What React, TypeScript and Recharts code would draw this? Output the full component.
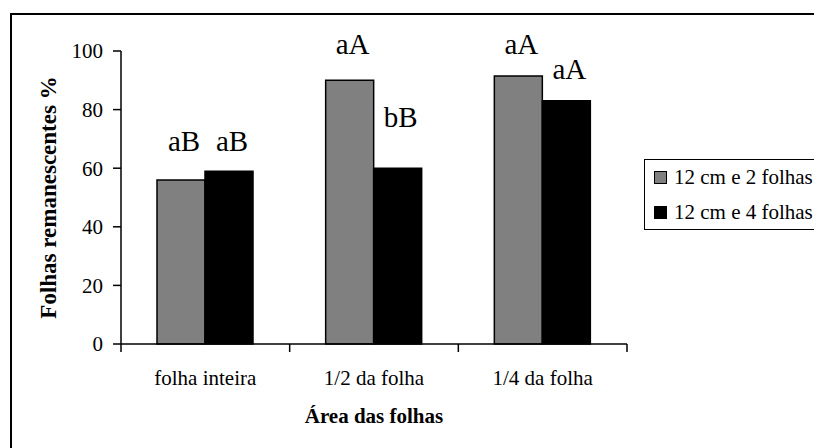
import { BarChart, Bar, XAxis, YAxis, Legend, LabelList } from "recharts";

const categories = ["folha inteira", "1/2 da folha", "1/4 da folha"];
const twoLeaves = [56, 90, 91.5];
const fourLeaves = [59, 60, 83];
const twoLeavesLetters = ["aB", "aA", "aA"];
const fourLeavesLetters = ["aB", "bB", "aA"];
// height (in % units) at which each letter sits
const twoLeavesLetterLevel = [66, 99, 99];
const fourLeavesLetterLevel = [66, 74, 90.6];
const yTicks = [0, 20, 40, 60, 80, 100];

const SERIES_TWO = "12 cm e 2 folhas";
const SERIES_FOUR = "12 cm e 4 folhas";

const data = categories.map((name, i) => ({
  name,
  two: twoLeaves[i],
  four: fourLeaves[i],
}));

const FONT = "Liberation Serif";

function letterLabel(letters: string[], levels: number[]) {
  return (props: any) => {
    const vb = props.viewBox ?? props;
    const { x, y, width, height } = vb;
    const index = props.index;
    const value = Number(props.value);
    if (!value || index == null) return null;
    const perUnit = height / value;
    const baseY = y + height;
    const ly = baseY - levels[index] * perUnit;
    return (
      <text
        x={x + width / 2 + 3}
        y={ly}
        textAnchor="middle"
        fontFamily={FONT}
        fontSize={29}
        fill="#000"
      >
        {letters[index]}
      </text>
    );
  };
}

function CategoryTick(props: any) {
  const { x, y, payload, index } = props;
  const half = payload?.offset ?? 84.4;
  const axisY = y - 10;
  return (
    <g>
      <line x1={x - half} y1={axisY} x2={x - half} y2={axisY + 8} stroke="#000" strokeWidth={1.5} />
      {index === categories.length - 1 && (
        <line x1={x + half} y1={axisY} x2={x + half} y2={axisY + 8} stroke="#000" strokeWidth={1.5} />
      )}
      <text x={x} y={y + 31} textAnchor="middle" fontFamily={FONT} fontSize={21} fill="#000">
        {payload.value}
      </text>
    </g>
  );
}

function LegendBox(props: any) {
  const items = props.payload ?? [];
  return (
    <div
      style={{
        borderTop: "1.5px solid #000",
        borderLeft: "1.5px solid #000",
        borderBottom: "1.5px solid #000",
        background: "#fff",
        width: 260,
        height: 69,
        boxSizing: "content-box",
        fontFamily: FONT,
        fontSize: 21,
        color: "#000",
      }}
    >
      {items.map((item: any, i: number) => (
        <div
          key={i}
          style={{ display: "flex", alignItems: "center", height: 35, paddingLeft: 9, whiteSpace: "nowrap" }}
        >
          <span
            style={{
              display: "inline-block",
              width: 11,
              height: 11,
              background: item.color,
              border: "1px solid #000",
              marginRight: 7,
            }}
          />
          <span>{item.value}</span>
        </div>
      ))}
    </div>
  );
}

function YTitle(props: any) {
  const vb = props.viewBox;
  const cx = vb.x + 48;
  const cy = vb.y + vb.height / 2;
  return (
    <text
      x={cx}
      y={cy}
      transform={`rotate(-90 ${cx} ${cy})`}
      textAnchor="middle"
      dominantBaseline="central"
      fontFamily={FONT}
      fontSize={23}
      fontWeight="bold"
      fill="#000"
    >
      Folhas remanescentes %
    </text>
  );
}

export default function App() {
  return (
    <div style={{ position: "fixed", left: 0, top: 0, width: 814, height: 448, overflow: "hidden", background: "#fff" }}>
      <div
        style={{
          position: "absolute",
          left: 10,
          top: 13,
          right: -20,
          bottom: -20,
          borderTop: "2px solid #000",
          borderLeft: "2px solid #000",
        }}
      />
      <div style={{ position: "absolute", left: 0, top: 0, width: 814, height: 448, overflow: "hidden" }}>
        <BarChart
          width={814}
          height={448}
          data={data}
          margin={{ top: 51, right: 187, bottom: 44, left: 0 }}
          barGap={0}
          barSize={48}
        >
          <XAxis
            dataKey="name"
            height={60}
            axisLine={{ stroke: "#000", strokeWidth: 1.5 }}
            tickLine={false}
            tickSize={8}
            tickMargin={2}
            interval={0}
            tick={<CategoryTick />}
            label={{
              value: "Área das folhas",
              position: "insideBottom",
              offset: -19,
              style: { fontFamily: FONT, fontSize: 21, fontWeight: "bold", fill: "#000" },
            }}
          />
          <YAxis
            width={121}
            domain={[0, 100]}
            ticks={yTicks}
            tickSize={8}
            tickMargin={10}
            axisLine={{ stroke: "#000", strokeWidth: 1.5 }}
            tickLine={{ stroke: "#000", strokeWidth: 1.5 }}
            tick={{ fontFamily: FONT, fontSize: 21, fill: "#000" }}
            label={{ content: <YTitle /> }}
          />
          <Legend
            layout="vertical"
            align="center"
            verticalAlign="middle"
            wrapperStyle={{ left: 644, top: 159, width: 170 }}
            content={<LegendBox />}
          />
          <Bar dataKey="two" name={SERIES_TWO} fill="#808080" stroke="#000" strokeWidth={1.5} isAnimationActive={false}>
            <LabelList dataKey="two" content={letterLabel(twoLeavesLetters, twoLeavesLetterLevel)} />
          </Bar>
          <Bar dataKey="four" name={SERIES_FOUR} fill="#000" stroke="#000" strokeWidth={1.5} isAnimationActive={false}>
            <LabelList dataKey="four" content={letterLabel(fourLeavesLetters, fourLeavesLetterLevel)} />
          </Bar>
        </BarChart>
      </div>
    </div>
  );
}
